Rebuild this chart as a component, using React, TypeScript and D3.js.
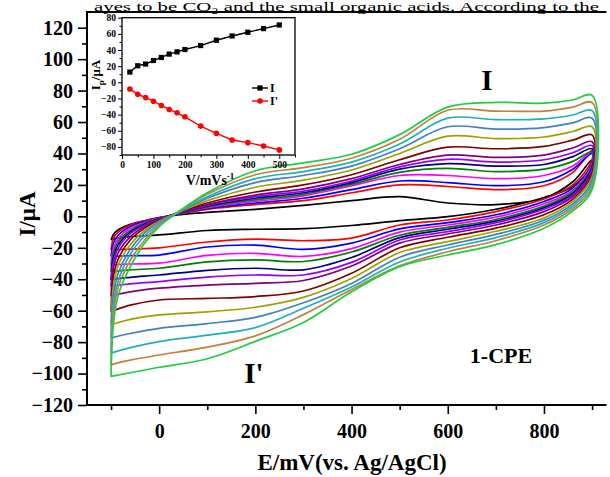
import React, { useRef, useEffect } from "react";
import * as d3 from "d3";

// scan rates (mV/s), one CV loop per rate
const scanRates = [25, 50, 75, 100, 125, 150, 175, 200, 250, 300, 350, 400, 450, 500];
const colors = ["#000000", "#ff0000", "#0000ff", "#ff00ff", "#008000", "#000080", "#9400ff",
  "#800080", "#800000", "#a0a000", "#4080c8", "#20b0b8", "#c08040", "#22cc44"];

// inset: peak currents vs scan rate
const peakAnodic = [12.7, 20.5, 22.6, 27, 30.8, 34.9, 37.7, 40.6, 45.5, 52.1, 57.4, 62, 66.5, 71];
const peakCathodic = [-8.2, -14.8, -18.9, -23.4, -28.7, -33.6, -37.7, -42.7, -54.2, -63.2, -71.4, -74.7, -78.8, -83.7];

// potentials where the currents were read (mV)
const anodicE = [-100, -95, -85, -60, -30, 0, 35, 100, 200, 300, 400, 500, 600, 700, 800, 860, 900];
const cathodicE = [900, 860, 800, 700, 600, 500, 400, 300, 200, 100, 0, -60, -95, -100];

// currents (uA), forward sweep, one row per scan rate
const anodicI = [
  [-15, -11.5, -8.5, -5, -2.8, -1, 0.8, 2.5, 4.5, 7, 10, 12.5, 8.5, 7.5, 11.5, 22, 36],
  [-21.4, -14, -10, -5.5, -2.8, -0.8, 1.2, 4.5, 7.5, 10, 15, 20, 19, 17, 19.5, 28, 42],
  [-25.6, -17, -12, -6.5, -3.2, -1, 1.3, 5, 8.5, 11.5, 17, 22.5, 21.5, 19.5, 22, 30, 40],
  [-31, -20, -14, -7.5, -3.8, -1.2, 1.4, 5.5, 9.5, 13, 19.5, 26, 26, 24, 26, 32, 41],
  [-35.2, -23, -16, -9, -4.3, -1.4, 1.5, 6, 10.5, 14, 20.5, 28, 30.5, 28.5, 30, 35, 41],
  [-40.5, -26, -18, -10, -5, -1.6, 1.5, 6.5, 11.5, 15, 21.5, 30, 33.5, 32, 33, 38, 43],
  [-44.7, -29, -20, -11, -5.5, -1.8, 1.6, 7, 12.5, 16, 22.5, 31.5, 36.3, 34.5, 36, 40.5, 45],
  [-51, -33, -23, -13, -6.5, -2, 1.7, 7.5, 13.5, 17.5, 24, 33, 39, 37.5, 39, 43.5, 47.5],
  [-60.6, -38, -27, -15, -7.5, -2.5, 1.8, 8.5, 15.5, 20, 26.5, 36, 44, 43, 44.5, 48.5, 51.8],
  [-69, -44, -31, -18, -9, -3, 1.8, 10, 18.5, 23, 29.5, 40, 51, 49.5, 50.5, 54, 57],
  [-77.5, -50, -36, -21, -10.5, -3.5, 1.8, 11.5, 21.5, 26, 32, 43, 57, 55.5, 56.5, 59.5, 62.4],
  [-87, -56, -41, -24, -12.5, -4.5, 1.8, 12.5, 24, 28.5, 34.5, 46, 62.5, 61.5, 62, 64.5, 67.2],
  [-94.5, -62, -45, -28, -15, -5.5, 1.8, 14, 26.5, 31, 37, 49, 67.5, 67, 67, 69.5, 72.3],
  [-102, -68, -50, -32, -17, -6.5, 1.8, 15, 29, 34, 39.5, 52, 69.5, 72.5, 72, 74, 77],
];

// currents (uA), reverse sweep
const cathodicI = [
  [32, 19, 12, 4.5, -0.2, -2.7, -5.8, -7.8, -8.2, -9, -11.8, -12.9, -14.3, -15],
  [36, 20, 11, 3, -2.3, -5.5, -13.8, -15.5, -14.5, -16.3, -20, -20.8, -21.2, -21.4],
  [34, 18, 9.5, 1, -4, -8, -17, -21, -18.3, -19.5, -24.6, -25, -25.4, -25.6],
  [33, 16.5, 8, -0.5, -5.5, -10, -20.5, -25.5, -23.5, -24.8, -29.8, -30.3, -30.8, -31],
  [32, 15.5, 6.5, -2, -7, -12, -22.7, -28.7, -27.7, -29, -33, -34, -35, -35.2],
  [31, 14.5, 5.5, -3, -8.2, -13.5, -26.2, -34, -33, -34.3, -37.3, -38.8, -40, -40.5],
  [30, 13.5, 4.5, -4, -9.7, -15, -29.3, -37.3, -37.3, -38.6, -41.5, -43, -44.3, -44.7],
  [29, 12.5, 3, -5.5, -11.2, -17, -31.6, -40.8, -42.6, -43.7, -45.7, -48, -50.3, -51],
  [27, 11, 1, -7.5, -13.3, -20, -36.2, -47.5, -51, -52.2, -53.2, -56.5, -60, -60.6],
  [25, 9.5, -1, -9.5, -16.1, -23, -39.5, -51.5, -57.8, -60.7, -62.7, -65.5, -68.5, -69],
  [23, 8, -2.5, -11.5, -18.2, -26, -42.7, -55, -64.3, -68.2, -71.2, -74.5, -77, -77.5],
  [21, 6.5, -4, -13.5, -20.3, -29, -45, -58.5, -70.8, -75.6, -79.7, -83.5, -86.5, -87],
  [19, 5, -5.5, -15.5, -22.5, -31.5, -46.5, -62.5, -76, -83.2, -88.2, -91.5, -94, -94.5],
  [17, 3.5, -7.5, -18, -24.6, -32, -48, -67.5, -79.5, -90.6, -96, -99.5, -101.5, -102],
];

const yTicks = d3.range(-120, 121, 20);
const xTicks = [0, 200, 400, 600, 800];
const insetXTicks = [0, 100, 200, 300, 400, 500];
const insetYTicks = d3.range(-80, 81, 20);

const serif = "'Liberation Serif', 'Times New Roman', serif";

const App = () => {
  const ref = useRef<SVGSVGElement>(null);

  useEffect(() => {
    const svg = d3.select(ref.current);
    svg.selectAll("*").remove();

    // line of body text just above the figure
    svg.append("text")
      .attr("x", 94).attr("y", 10.5)
      .attr("textLength", 505).attr("lengthAdjust", "spacingAndGlyphs")
      .style("font-family", serif).style("font-size", "13.5px")
      .text("ayes to be CO\u2082 and the small organic acids. According to the");

    const x = d3.scaleLinear().domain([-150, 930]).range([87, 606.5]);
    const y = d3.scaleLinear().domain([-120, 130]).range([405, 12]);

    // CV loops
    const line = d3.line<[number, number]>()
      .x(d => x(d[0])).y(d => y(d[1]))
      .curve(d3.curveCatmullRom.alpha(0.5));

    scanRates.forEach((r, i) => {
      const pts: [number, number][] = [
        ...anodicE.map((e, j) => [e, anodicI[i][j]] as [number, number]),
        ...cathodicE.map((e, j) => [e, cathodicI[i][j]] as [number, number]),
      ];
      svg.append("path")
        .attr("d", line(pts))
        .attr("fill", "none")
        .attr("stroke", colors[i])
        .attr("stroke-width", 1.7)
        .attr("stroke-linejoin", "round");
    });

    // frame
    svg.append("path")
      .attr("d", `M${x(930)},${y(130)}H${x(-150)}V${y(-120)}H${x(930)}`)
      .attr("fill", "none").attr("stroke", "#000").attr("stroke-width", 2);

    const styleAxis = (g: any, size: number) => {
      g.select(".domain").remove();
      g.selectAll("line").attr("stroke", "#000").attr("stroke-width", 1.6);
      g.selectAll("text")
        .style("font-family", serif).style("font-weight", "bold")
        .style("font-size", size + "px").attr("fill", "#000");
    };

    svg.append("g").attr("transform", `translate(${x(-150)},0)`)
      .call(d3.axisLeft(y).tickValues(yTicks).tickSize(9).tickPadding(5))
      .call(g => styleAxis(g, 20));
    svg.append("g").attr("transform", `translate(${x(-150)},0)`)
      .call(d3.axisLeft(y).tickValues(d3.range(-110, 130, 20)).tickSize(5).tickFormat(() => ""))
      .call(g => styleAxis(g, 20));

    svg.append("g").attr("transform", `translate(0,${y(-120)})`)
      .call(d3.axisBottom(x).tickValues(xTicks).tickSize(9).tickPadding(10))
      .call(g => styleAxis(g, 20));
    svg.append("g").attr("transform", `translate(0,${y(-120)})`)
      .call(d3.axisBottom(x).tickValues([-100, 100, 300, 500, 700, 900]).tickSize(5).tickFormat(() => ""))
      .call(g => styleAxis(g, 20));

    const bold = (sel: any, size: number) =>
      sel.style("font-family", serif).style("font-weight", "bold").style("font-size", size + "px");

    svg.append("text").attr("x", 352).attr("y", 470).attr("text-anchor", "middle")
      .call(s => bold(s, 23)).text("E/mV(vs. Ag/AgCl)");
    svg.append("text").attr("transform", "translate(35,214) rotate(-90)").attr("text-anchor", "middle")
      .call(s => bold(s, 23)).text("I/\u03bcA");

    svg.append("text").attr("x", 487).attr("y", 90).attr("text-anchor", "middle")
      .call(s => bold(s, 29)).text("I");
    svg.append("text").attr("x", 254).attr("y", 383).attr("text-anchor", "middle")
      .call(s => bold(s, 29)).text("I'");
    svg.append("text").attr("x", 501).attr("y", 363).attr("text-anchor", "middle")
      .call(s => bold(s, 22)).text("1-CPE");

    // inset
    const ix = d3.scaleLinear().domain([0, 550]).range([122, 295]);
    const iy = d3.scaleLinear().domain([-90, 80]).range([155, 17.7]);
    const inset = svg.append("g");

    inset.append("rect")
      .attr("x", ix(0)).attr("y", iy(80))
      .attr("width", ix(550) - ix(0)).attr("height", iy(-90) - iy(80))
      .attr("fill", "#fff").attr("stroke", "#000").attr("stroke-width", 1.3);

    const styleInset = (g: any) => {
      g.select(".domain").remove();
      g.selectAll("line").attr("stroke", "#000").attr("stroke-width", 1);
      g.selectAll("text")
        .style("font-family", serif).style("font-weight", "bold")
        .style("font-size", "9.5px").attr("fill", "#000");
    };
    inset.append("g").attr("transform", `translate(${ix(0)},0)`)
      .call(d3.axisLeft(iy).tickValues(insetYTicks).tickSize(4).tickPadding(2))
      .call(styleInset);
    inset.append("g").attr("transform", `translate(${ix(0)},0)`)
      .call(d3.axisLeft(iy).tickValues(d3.range(-90, 80, 20)).tickSize(2.5).tickFormat(() => ""))
      .call(styleInset);
    inset.append("g").attr("transform", `translate(0,${iy(-90)})`)
      .call(d3.axisBottom(ix).tickValues(insetXTicks).tickSize(4).tickPadding(2))
      .call(styleInset);
    inset.append("g").attr("transform", `translate(0,${iy(-90)})`)
      .call(d3.axisBottom(ix).tickValues([50, 150, 250, 350, 450, 550]).tickSize(2.5).tickFormat(() => ""))
      .call(styleInset);

    const iline = d3.line<number>().x((d, i) => ix(scanRates[i])).y(d => iy(d));
    inset.append("path").attr("d", iline(peakAnodic))
      .attr("fill", "none").attr("stroke", "#000").attr("stroke-width", 1.4);
    inset.append("path").attr("d", iline(peakCathodic))
      .attr("fill", "none").attr("stroke", "#ff0000").attr("stroke-width", 1.4);
    inset.selectAll(".sq").data(peakAnodic).enter().append("rect")
      .attr("x", (d, i) => ix(scanRates[i]) - 2.6).attr("y", d => iy(d) - 2.6)
      .attr("width", 5.2).attr("height", 5.2).attr("fill", "#000");
    inset.selectAll(".ci").data(peakCathodic).enter().append("circle")
      .attr("cx", (d, i) => ix(scanRates[i])).attr("cy", d => iy(d))
      .attr("r", 2.8).attr("fill", "#ff0000");

    // inset legend
    const legend = [{ label: "I", color: "#000", sq: true, yy: 88 }, { label: "I'", color: "#ff0000", sq: false, yy: 101 }];
    legend.forEach(l => {
      inset.append("line").attr("x1", 252).attr("x2", 268).attr("y1", l.yy).attr("y2", l.yy)
        .attr("stroke", l.color).attr("stroke-width", 1.4);
      if (l.sq) inset.append("rect").attr("x", 257.4).attr("y", l.yy - 2.6).attr("width", 5.2).attr("height", 5.2).attr("fill", l.color);
      else inset.append("circle").attr("cx", 260).attr("cy", l.yy).attr("r", 2.8).attr("fill", l.color);
      inset.append("text").attr("x", 270).attr("y", l.yy + 4)
        .call(s => bold(s, 12)).text(l.label);
    });

    inset.append("text").attr("x", 210).attr("y", 185).attr("text-anchor", "middle")
      .call(s => bold(s, 14))
      .call(t => {
        t.append("tspan").text("V/mVs");
        t.append("tspan").attr("dy", -6).style("font-size", "9px").text("-1");
      });
    inset.append("text").attr("transform", "translate(100,75) rotate(-90)").attr("text-anchor", "middle")
      .call(s => bold(s, 13))
      .call(t => {
        t.append("tspan").text("I");
        t.append("tspan").attr("dy", 4).style("font-size", "9px").text("p");
        t.append("tspan").attr("dy", -4).text("/\u03bcA");
      });
  }, []);

  return (
    <svg ref={ref} width={610} height={477}
      style={{ position: "absolute", left: 0, top: 0, background: "#fff" }} />
  );
};

export default App;
